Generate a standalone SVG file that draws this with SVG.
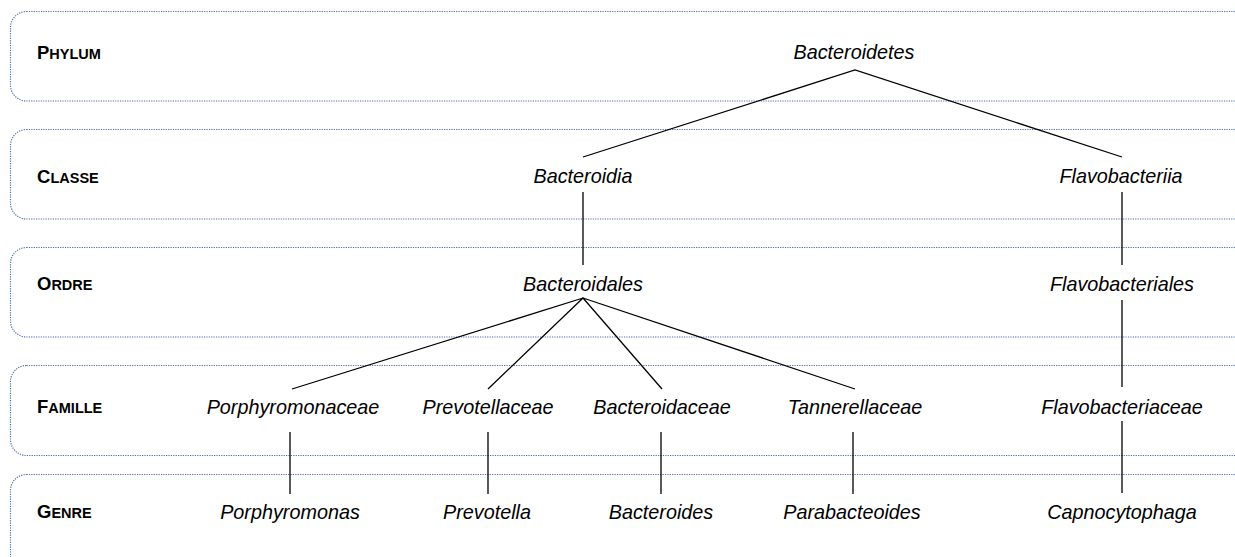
<svg xmlns="http://www.w3.org/2000/svg" width="1235" height="557" viewBox="0 0 1235 557">
<style>
.band{fill:none;stroke:#4a6cb0;stroke-width:1.2;stroke-dasharray:1.2 1.2}
.lbl{font-family:"Liberation Sans",Arial,sans-serif;font-weight:bold;fill:#000}
.cap{font-size:18.5px}
.sc{font-size:14.5px}
.tx{font-family:"Liberation Sans",Arial,sans-serif;font-style:italic;font-size:19.8px;fill:#000;text-anchor:middle}
.ln{stroke:#000;stroke-width:1.3;fill:none}
</style>
<g id="bands">
<g id="band-phylum"><rect class="band" x="10.5" y="11.5" width="1300" height="89.5" rx="16"/><text class="lbl" x="37" y="59"><tspan class="cap">P</tspan><tspan class="sc">HYLUM</tspan></text></g>
<g id="band-classe"><rect class="band" x="10.5" y="129.5" width="1300" height="89.5" rx="16"/><text class="lbl" x="37" y="183"><tspan class="cap">C</tspan><tspan class="sc">LASSE</tspan></text></g>
<g id="band-ordre"><rect class="band" x="10.5" y="247.5" width="1300" height="89.5" rx="16"/><text class="lbl" x="37" y="290"><tspan class="cap">O</tspan><tspan class="sc">RDRE</tspan></text></g>
<g id="band-famille"><rect class="band" x="10.5" y="365.5" width="1300" height="90" rx="16"/><text class="lbl" x="37" y="413"><tspan class="cap">F</tspan><tspan class="sc">AMILLE</tspan></text></g>
<g id="band-genre"><rect class="band" x="10.5" y="474.5" width="1300" height="110" rx="16"/><text class="lbl" x="37" y="518"><tspan class="cap">G</tspan><tspan class="sc">ENRE</tspan></text></g>
</g>
<g id="connectors">
<path class="ln" d="M583,157 L855,70 L1122,157"/>
<path class="ln" d="M583,192 V265"/>
<path class="ln" d="M1122,192 V265"/>
<path class="ln" d="M292,389 L583,298 L488,389 M583,298 L662,389 M583,298 L855,389"/>
<path class="ln" d="M1122,300 V387"/>
<path class="ln" d="M1122,421 V493"/>
<path class="ln" d="M290,432 V494 M488,432 V494 M661,432 V494 M853,432 V494"/>
</g>
<g id="n-bacteroidetes"><text class="tx" x="854" y="59">Bacteroidetes</text></g>
<g id="n-bacteroidia"><text class="tx" x="583" y="183">Bacteroidia</text></g>
<g id="n-flavobacteriia"><text class="tx" x="1121" y="183">Flavobacteriia</text></g>
<g id="n-bacteroidales"><text class="tx" x="583" y="291">Bacteroidales</text></g>
<g id="n-flavobacteriales"><text class="tx" x="1122" y="291">Flavobacteriales</text></g>
<g id="n-porphyromonaceae"><text class="tx" x="293" y="414">Porphyromonaceae</text></g>
<g id="n-prevotellaceae"><text class="tx" x="488" y="414">Prevotellaceae</text></g>
<g id="n-bacteroidaceae"><text class="tx" x="662" y="414">Bacteroidaceae</text></g>
<g id="n-tannerellaceae"><text class="tx" x="855" y="414">Tannerellaceae</text></g>
<g id="n-flavobacteriaceae"><text class="tx" x="1122" y="414">Flavobacteriaceae</text></g>
<g id="n-porphyromonas"><text class="tx" x="290" y="519">Porphyromonas</text></g>
<g id="n-prevotella"><text class="tx" x="487" y="519">Prevotella</text></g>
<g id="n-bacteroides"><text class="tx" x="661" y="519">Bacteroides</text></g>
<g id="n-parabacteoides"><text class="tx" x="852" y="519">Parabacteoides</text></g>
<g id="n-capnocytophaga"><text class="tx" x="1122" y="519">Capnocytophaga</text></g>
</svg>
